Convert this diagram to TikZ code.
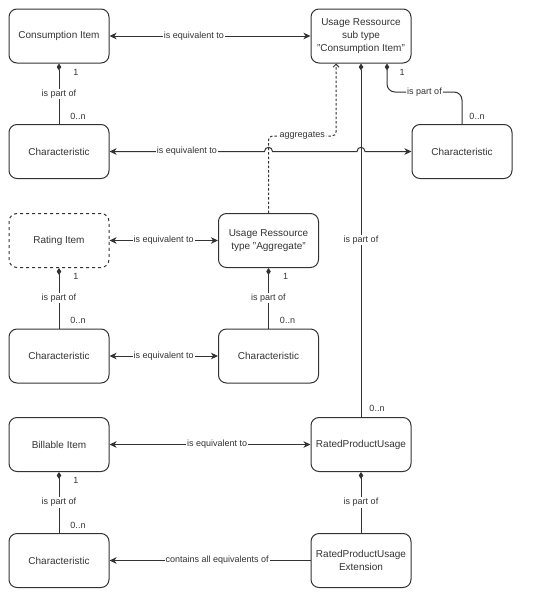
\documentclass[tikz,border=0pt]{standalone}
\usepackage{fontspec}
\setmainfont{Liberation Sans}
\usetikzlibrary{arrows.meta}
\definecolor{ink}{HTML}{333333}

\begin{document}
\begin{tikzpicture}[x=1pt, y=-1pt, line width=1pt, color=ink,
    item/.style={draw, rounded corners=8pt, minimum width=100pt, minimum height=54pt, align=center, font=\fontsize{10}{13}\selectfont},
    lbl/.style={fill=white, inner sep=1pt, font=\fontsize{9}{11}\selectfont},
    mult/.style={inner sep=1pt, font=\fontsize{9}{11}\selectfont},
    fine dash/.style={dash pattern=on 2.5pt off 2pt},
    part/.style={-{Diamond[length=7pt,width=4.5pt]}},
    equiv/.style={{Stealth[length=7pt,width=6.5pt,inset=2pt]}-{Stealth[length=7pt,width=6.5pt,inset=2pt]}}]
    \useasboundingbox (0,0) rectangle (554,600);

    \node[item] (ci) at (59,36) {Consumption Item};
    \node[item] (usub) at (361,36) {Usage Ressource\\sub type\\"Consumption Item"};
    \node[item] (ch1) at (59,151.5) {Characteristic};
    \node[item] (ch2) at (462,151.5) {Characteristic};
    \node[item, dash pattern=on 3pt off 3pt] (ri) at (59,240.5) {Rating Item};
    \node[item] (uagg) at (268.5,240.5) {Usage Ressource\\type "Aggregate"};
    \node[item] (ch3) at (59,356) {Characteristic};
    \node[item] (ch4) at (268.5,356) {Characteristic};
    \node[item] (bi) at (59,444.5) {Billable Item};
    \node[item] (rpu) at (361,444.5) {RatedProductUsage};
    \node[item] (ch5) at (59,560.5) {Characteristic};
    \node[item] (rpue) at (361,560.5) {RatedProductUsage\\Extension};

    % top row
    \draw[equiv] (ci) -- node[lbl, pos=0.42] {is equivalent to} (usub);
    \draw[part] (ch1) -- node[lbl] {is part of} node[mult, pos=0.13, xshift=19pt] {0..n} node[mult, pos=0.86, xshift=17pt] {1} (ci);
    \draw[part, rounded corners=8pt] (ch2.north) -- ++(0,-32) node[mult, pos=0.25, xshift=15pt] {0..n} -| node[lbl, pos=0.25] {is part of} node[mult, pos=0.85, xshift=15pt] {1} ([xshift=26pt]usub.south);
    \draw[fine dash, -{Straight Barb[length=3pt,width=6pt]}, rounded corners=4pt] (uagg.north) -- ++(0,-77) -| node[lbl, pos=0.25] {aggregates} ([xshift=-25pt]usub.south);
    \draw[part] (rpu) -- node[lbl] {is part of} node[mult, pos=0.025, xshift=16pt] {0..n} (usub);

    % line jumps
    \coordinate (j1) at (uagg.north |- ch1.east);
    \coordinate (j2) at (usub.south |- ch1.east);
    \draw[equiv] (ch1.east) -- node[lbl] {is equivalent to} ([xshift=-4pt]j1)
      .. controls ([xshift=-4pt,yshift=5.5pt]j1) and ([xshift=4pt,yshift=5.5pt]j1) .. ([xshift=4pt]j1)
      -- ([xshift=-4pt]j2)
      .. controls ([xshift=-4pt,yshift=5.5pt]j2) and ([xshift=4pt,yshift=5.5pt]j2) .. ([xshift=4pt]j2)
      -- (ch2.west);

    % middle row
    \draw[equiv] (ri) -- node[lbl] {is equivalent to} (uagg);
    \draw[part] (ch3) -- node[lbl] {is part of} node[mult, pos=0.13, xshift=19pt] {0..n} node[mult, pos=0.86, xshift=17pt] {1} (ri);
    \draw[part] (ch4) -- node[lbl] {is part of} node[mult, pos=0.13, xshift=19pt] {0..n} node[mult, pos=0.86, xshift=17pt] {1} (uagg);
    \draw[equiv] (ch3) -- node[lbl] {is equivalent to} (ch4);

    % bottom row
    \draw[equiv] (bi) -- node[lbl, pos=0.535] {is equivalent to} (rpu);
    \draw[part] (ch5) -- node[lbl] {is part of} node[mult, pos=0.13, xshift=19pt] {0..n} node[mult, pos=0.86, xshift=17pt] {1} (bi);
    \draw[part] (rpue) -- node[lbl] {is part of} (rpu);
    \draw[-{Stealth[length=7pt,width=6.5pt,inset=2pt]}] (rpue) -- node[lbl, pos=0.465] {contains all equivalents of} (ch5);
\end{tikzpicture}
\end{document}
